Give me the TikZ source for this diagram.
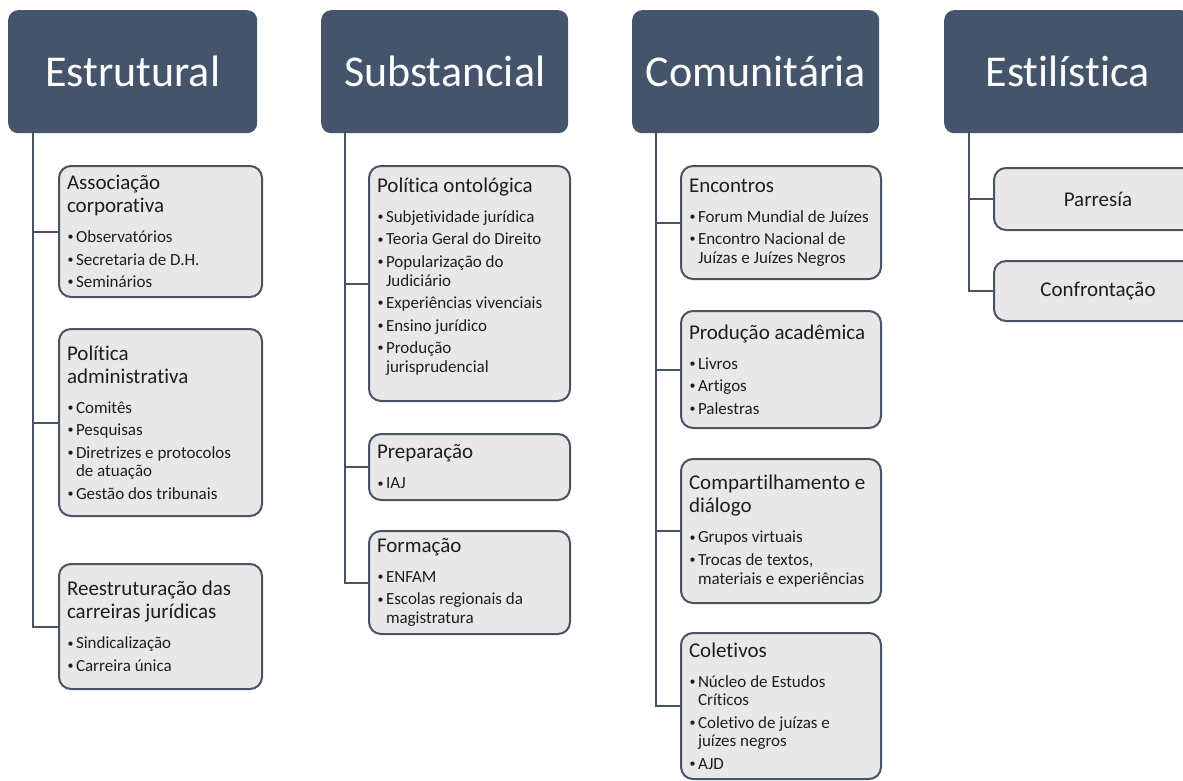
\documentclass[tikz,border=0pt]{standalone}
\usepackage{fontspec}
\setmainfont{Carlito}[Ligatures=NoCommon]

\definecolor{hdr}{HTML}{44546A}
\definecolor{boxfill}{HTML}{E8E8E8}
\definecolor{boxedge}{HTML}{4A5366}
\definecolor{ink}{HTML}{1E1E1E}

% title of a box, then switch to the bullet size
\newcommand{\ttl}[1]{\fontsize{21}{23}\selectfont #1\par
  \fontsize{17}{18.7}\selectfont\parskip=3.8pt\vspace{7.5pt}}
% small bullet mark
\newcommand{\bmark}{\makebox[9pt][l]{\hspace{0.5pt}\raisebox{1.8pt}{\fontsize{12}{12}\selectfont\textbullet}}}
% one bullet paragraph with hanging indent (use \newline for wrapped lines)
\newcommand{\bitem}[1]{\hangindent=9pt\hangafter=1\noindent\bmark#1\par}
% body of a box, set ragged right
\newcommand{\cbody}[2]{\parbox{#1}{\raggedright #2}}

\tikzset{
  hdrbox/.style={fill=hdr, draw=none, rounded corners=10pt, text=white,
    font=\fontsize{44}{48}\selectfont, anchor=north west, inner sep=0pt},
  cbox/.style={fill=boxfill, draw=boxedge, line width=2pt, rounded corners=12pt,
    text=ink, anchor=north west, inner xsep=8pt, inner ysep=0pt},
  onebox/.style={cbox, font=\fontsize{21}{24}\selectfont},
  conn/.style={draw=boxedge, line width=2pt},
}

\begin{document}
\begin{tikzpicture}[x=1pt, y=-1pt]
\useasboundingbox (0,0) rectangle (1183,780);
\clip (0,0) rectangle (1183,780);
\fill[white] (0,0) rectangle (1183,780);

% column headers
\node[hdrbox, minimum width=249pt, minimum height=123pt] (h1) at (8,10) {Estrutural};
\node[hdrbox, minimum width=247pt, minimum height=123pt] (h2) at (321,10) {Substancial};
\node[hdrbox, minimum width=247pt, minimum height=123pt] (h3) at (632,10) {Comunitária};
\node[hdrbox, minimum width=247pt, minimum height=123pt] (h4) at (944,10) {Estilística};

% Estrutural
\node[cbox, minimum width=203pt, minimum height=131pt] (a1) at (58,165)
  {\cbody{187pt}{\ttl{Associação\\corporativa}
   \bitem{Observatórios}\bitem{Secretaria de D.H.}\bitem{Seminários}}};
\node[cbox, minimum width=203pt, minimum height=187pt] (a2) at (58,328)
  {\cbody{187pt}{\ttl{Política\\administrativa}
   \bitem{Comitês}\bitem{Pesquisas}\bitem{Diretrizes e protocolos\newline de atuação}
   \bitem{Gestão dos tribunais}}};
\node[cbox, minimum width=203pt, minimum height=125pt] (a3) at (58,563)
  {\cbody{187pt}{\ttl{Reestruturação das\\carreiras jurídicas}
   \bitem{Sindicalização}\bitem{Carreira única}}};

% Substancial
\node[cbox, minimum width=201pt, minimum height=235pt] (b1) at (368,165)
  {\cbody{185pt}{\ttl{Política ontológica}
   \bitem{Subjetividade jurídica}\bitem{Teoria Geral do Direito}
   \bitem{Popularização do\newline Judiciário}\bitem{Experiências vivenciais}
   \bitem{Ensino jurídico}\bitem{Produção\newline jurisprudencial}\vspace{14pt}}};
\node[cbox, minimum width=201pt, minimum height=66pt] (b2) at (368,433)
  {\cbody{185pt}{\ttl{Preparação}\bitem{IAJ}}};
\node[cbox, minimum width=201pt, minimum height=103pt] (b3) at (368,530)
  {\cbody{185pt}{\ttl{Formação}
   \bitem{ENFAM}\bitem{Escolas regionais da\newline magistratura}}};

% Comunitária
\node[cbox, minimum width=200pt, minimum height=113pt] (c1) at (680,165)
  {\cbody{184pt}{\ttl{Encontros}
   \bitem{Forum Mundial de Juízes}\bitem{Encontro Nacional de\newline Juízas e Juízes Negros}}};
\node[cbox, minimum width=200pt, minimum height=117pt] (c2) at (680,310)
  {\cbody{184pt}{\ttl{Produção acadêmica}
   \bitem{Livros}\bitem{Artigos}\bitem{Palestras}}};
\node[cbox, minimum width=200pt, minimum height=144pt] (c3) at (680,458)
  {\cbody{184pt}{\ttl{Compartilhamento e\\diálogo}
   \bitem{Grupos virtuais}\bitem{Trocas de textos,\newline materiais e experiências}}};
\node[cbox, minimum width=200pt, minimum height=146pt] (c4) at (680,632)
  {\cbody{184pt}{\ttl{Coletivos}
   \bitem{Núcleo de Estudos\newline Críticos}\bitem{Coletivo de juízas e\newline juízes negros}
   \bitem{AJD}}};

% Estilística
\node[onebox, minimum width=208pt, minimum height=62pt] (d1) at (993,167) {Parresía};
\node[onebox, minimum width=208pt, minimum height=60pt] (d2) at (993,260) {Confrontação};

% tree connectors
\coordinate (t1) at (33,133);
\coordinate (t2) at (345,133);
\coordinate (t3) at (656,133);
\coordinate (t4) at (969,133);
\foreach \b in {a1,a2,a3} \draw[conn] (t1) |- (\b.west);
\foreach \b in {b1,b2,b3} \draw[conn] (t2) |- (\b.west);
\foreach \b in {c1,c2,c3,c4} \draw[conn] (t3) |- (\b.west);
\foreach \b in {d1,d2} \draw[conn] (t4) |- (\b.west);
\end{tikzpicture}
\end{document}
